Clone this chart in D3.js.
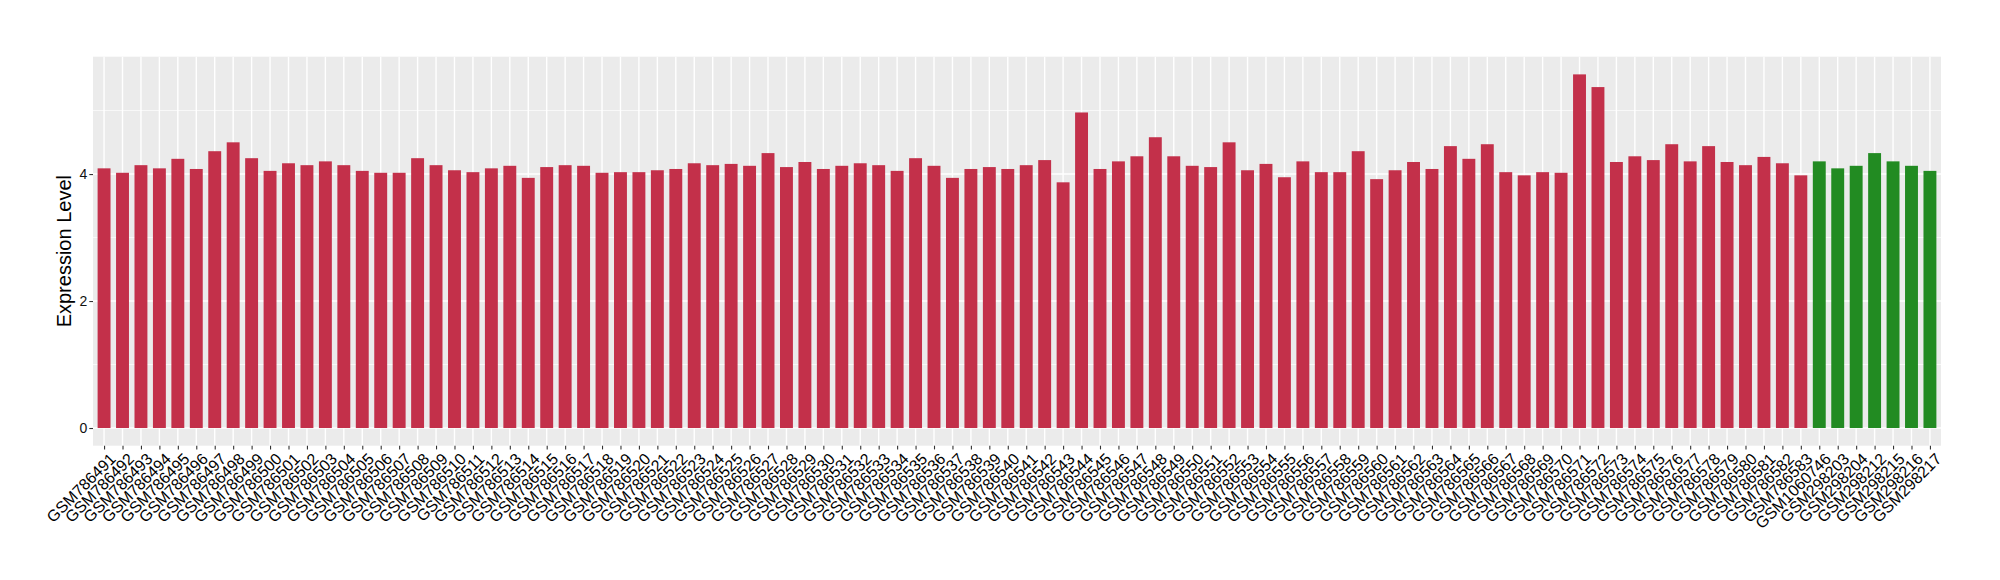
<!DOCTYPE html>
<html>
<head>
<meta charset="utf-8">
<script src="https://cdn.jsdelivr.net/npm/d3@7"></script>
<style>
  html, body { margin: 0; padding: 0; background: #ffffff; }
  svg { display: block; }
</style>
</head>
<body>
<svg id="chart" width="2000" height="580"></svg>
<script>
// ---- data ----
const categories = [
  "GSM786491","GSM786492","GSM786493","GSM786494","GSM786495","GSM786496","GSM786497","GSM786498","GSM786499","GSM786500",
  "GSM786501","GSM786502","GSM786503","GSM786504","GSM786505","GSM786506","GSM786507","GSM786508","GSM786509","GSM786510",
  "GSM786511","GSM786512","GSM786513","GSM786514","GSM786515","GSM786516","GSM786517","GSM786518","GSM786519","GSM786520",
  "GSM786521","GSM786522","GSM786523","GSM786524","GSM786525","GSM786526","GSM786527","GSM786528","GSM786529","GSM786530",
  "GSM786531","GSM786532","GSM786533","GSM786534","GSM786535","GSM786536","GSM786537","GSM786538","GSM786539","GSM786540",
  "GSM786541","GSM786542","GSM786543","GSM786544","GSM786545","GSM786546","GSM786547","GSM786548","GSM786549","GSM786550",
  "GSM786551","GSM786552","GSM786553","GSM786554","GSM786555","GSM786556","GSM786557","GSM786558","GSM786559","GSM786560",
  "GSM786561","GSM786562","GSM786563","GSM786564","GSM786565","GSM786566","GSM786567","GSM786568","GSM786569","GSM786570",
  "GSM786571","GSM786572","GSM786573","GSM786574","GSM786575","GSM786576","GSM786577","GSM786578","GSM786579","GSM786580",
  "GSM786581","GSM786582","GSM786583",
  "GSM1060746","GSM298203","GSM298204","GSM298212","GSM298215","GSM298216","GSM298217"
];
const values = [
  4.09,4.02,4.14,4.09,4.24,4.08,4.36,4.50,4.25,4.05,
  4.17,4.14,4.20,4.14,4.05,4.02,4.02,4.25,4.14,4.06,
  4.03,4.09,4.13,3.94,4.11,4.14,4.13,4.02,4.03,4.03,
  4.06,4.08,4.17,4.14,4.16,4.13,4.33,4.11,4.19,4.08,
  4.13,4.17,4.14,4.05,4.25,4.13,3.94,4.08,4.11,4.08,
  4.14,4.22,3.87,4.97,4.08,4.20,4.28,4.58,4.28,4.13,
  4.11,4.50,4.06,4.16,3.95,4.20,4.03,4.03,4.36,3.92,
  4.06,4.19,4.08,4.44,4.24,4.47,4.03,3.98,4.03,4.02,
  5.57,5.37,4.19,4.28,4.22,4.47,4.20,4.44,4.19,4.14,
  4.27,4.17,3.98,
  4.20,4.09,4.13,4.33,4.20,4.13,4.05
];
const groups = categories.map(c => c.startsWith("GSM7865") || c.startsWith("GSM7864") ? "A" : "B");
const groupColors = { A: "#c3304a", B: "#228b22" };
const yTicks = [0, 2, 4];
const yMinor = [1, 3, 5];
const yTitle = "Expression Level";

// ---- layout ----
const panel = { left: 93, right: 1941, top: 56.7, bottom: 445.7 };
const svg = d3.select("#chart");

const x = d3.scalePoint().domain(categories).range([panel.left, panel.right]).padding(0.6);
const maxV = d3.max(values);
const y = d3.scaleLinear().domain([-0.05 * maxV, 1.05 * maxV]).range([panel.bottom, panel.top]);
const barW = x.step() * 0.7;

// panel background
svg.append("rect")
  .attr("x", panel.left).attr("y", panel.top)
  .attr("width", panel.right - panel.left).attr("height", panel.bottom - panel.top)
  .attr("fill", "#ebebeb");

// minor grid
svg.append("g").selectAll("line").data(yMinor).join("line")
  .attr("x1", panel.left).attr("x2", panel.right)
  .attr("y1", d => y(d)).attr("y2", d => y(d))
  .attr("stroke", "#ffffff").attr("stroke-width", 0.7);

// major grid
svg.append("g").selectAll("line").data(yTicks).join("line")
  .attr("x1", panel.left).attr("x2", panel.right)
  .attr("y1", d => y(d)).attr("y2", d => y(d))
  .attr("stroke", "#ffffff").attr("stroke-width", 1.4);
svg.append("g").selectAll("line").data(categories).join("line")
  .attr("x1", d => x(d)).attr("x2", d => x(d))
  .attr("y1", panel.top).attr("y2", panel.bottom)
  .attr("stroke", "#ffffff").attr("stroke-width", 1.4);

// bars
const data = categories.map((c, i) => ({ c, v: values[i], g: groups[i] }));
svg.append("g").selectAll("rect").data(data).join("rect")
  .attr("x", d => x(d.c) - barW / 2)
  .attr("width", barW)
  .attr("y", d => y(d.v))
  .attr("height", d => y(0) - y(d.v))
  .attr("fill", d => groupColors[d.g]);

// y axis
const yAxis = d3.axisLeft(y).tickValues(yTicks).tickSize(3.7).tickPadding(2).tickFormat(d3.format("d"));
const gy = svg.append("g").attr("transform", `translate(${panel.left},0)`).call(yAxis);
gy.select(".domain").remove();
gy.selectAll(".tick line").attr("stroke", "#333333").attr("stroke-width", 1.1);
gy.selectAll(".tick text").attr("fill", "#111111")
  .style("font-family", "'Liberation Sans', Arial, sans-serif").style("font-size", "14px");

// x axis
const xAxis = d3.axisBottom(x).tickSize(3.7).tickPadding(2);
const gx = svg.append("g").attr("transform", `translate(0,${panel.bottom})`).call(xAxis);
gx.select(".domain").remove();
gx.selectAll(".tick line").attr("stroke", "#333333").attr("stroke-width", 1.1);
gx.selectAll(".tick text")
  .attr("fill", "#000000")
  .style("font-family", "'Liberation Sans', Arial, sans-serif").style("font-size", "16px")
  .attr("text-anchor", "end")
  .attr("y", 0).attr("dy", "0.72em")
  .attr("transform", "translate(4,6) rotate(-45)");

// y title
svg.append("text")
  .attr("transform", `translate(71,${(panel.top + panel.bottom) / 2}) rotate(-90)`)
  .attr("text-anchor", "middle")
  .style("font-family", "'Liberation Sans', Arial, sans-serif").style("font-size", "20px")
  .attr("fill", "#000000")
  .text(yTitle);
</script>
</body>
</html>
